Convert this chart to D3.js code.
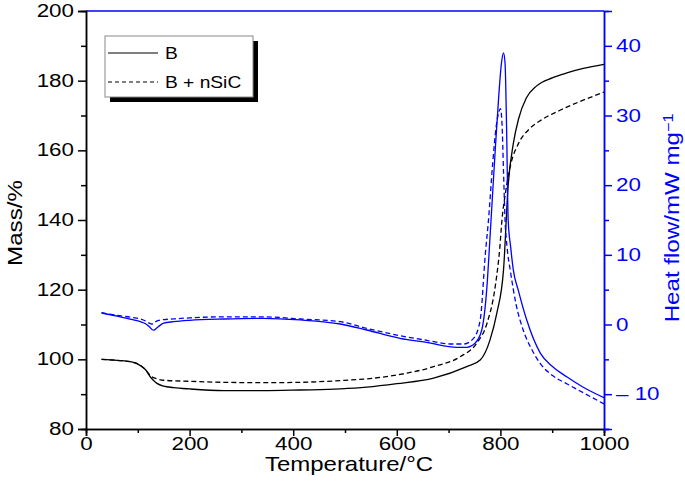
<!DOCTYPE html>
<html><head><meta charset="utf-8">
<script src="https://cdn.jsdelivr.net/npm/d3@7"></script>
<style>body{margin:0;background:#fff}svg{display:block}</style>
</head><body>
<svg id="c" width="685" height="499"></svg>
<script>
// ---- data ----
const tempMassB = [30, 60, 90, 105, 115, 124, 130, 137, 150, 169, 200, 266, 342, 414, 491, 542, 600, 671, 735, 761, 780, 793, 806, 815, 825, 835, 850, 870, 900, 930, 960, 1000];
const massB     = [100, 99.7, 99.2, 98.2, 97, 95, 94, 93.1, 92.3, 91.9, 91.5, 91.0, 91.0, 91.2, 91.5, 92.0, 93.0, 94.6, 97.9, 99.8, 105.6, 113.2, 125.6, 150, 162, 169, 175, 178.5, 180.8, 182.3, 183.5, 184.7];
const tempMassS = [30, 60, 90, 105, 115, 125, 137, 150, 200, 266, 342, 414, 491, 542, 600, 671, 723, 754, 774, 790, 799, 803, 810, 820, 835, 855, 880, 915, 950, 1000];
const massS     = [100, 99.7, 99.2, 98.3, 97, 95.2, 94.4, 94.0, 93.7, 93.4, 93.3, 93.4, 93.9, 94.4, 95.5, 97.9, 100.8, 104.6, 110.3, 120.9, 132.3, 140, 148, 156, 162, 166, 168.8, 171.5, 173.8, 176.7];
const tempHeatB = [30, 60, 90, 105, 115, 122, 128, 131, 135, 140, 150, 169, 200, 266, 342, 414, 491, 542, 606, 660, 716, 735, 751, 764, 774, 780, 790, 797, 802, 806, 809, 812, 815, 820, 825, 835, 851, 877, 900, 928, 960, 1000];
const heatB     = [1.65, 1.2, 0.7, 0.4, 0.1, -0.3, -0.75, -0.8, -0.6, -0.3, 0.2, 0.4, 0.6, 0.79, 0.89, 0.65, 0.07, -0.79, -1.98, -2.6, -3.27, -3.27, -2.7, -0.79, 5.4, 12.6, 25, 33, 37.5, 39, 37.5, 28, 15, 11, 7.8, 4.8, 0.6, -4.1, -6, -7.5, -9, -10.5];
const tempHeatS = [30, 60, 90, 105, 115, 122, 127, 132, 140, 150, 169, 200, 266, 342, 414, 491, 542, 606, 660, 703, 729, 748, 761, 771, 777, 785, 792, 797, 800, 803, 806, 809, 813, 819, 830, 844, 860, 877, 900, 928, 960, 1000];
const heatS     = [1.7, 1.3, 1.0, 0.8, 0.5, 0.2, 0.07, 0.3, 0.6, 0.7, 0.8, 0.95, 1.1, 1.1, 0.79, 0.4, -0.55, -1.6, -2.3, -2.8, -2.8, -2.0, 0.65, 10.2, 15, 23, 28.5, 30.5, 31, 29, 22, 15, 11, 7.8, 3.0, -0.8, -3.5, -5.6, -7.3, -8.5, -9.8, -11.4];
const xTicks = [0, 200, 400, 600, 800, 1000];
const xMinor = [100, 300, 500, 700, 900];
const massTicks = [80, 100, 120, 140, 160, 180, 200];
const massMinor = [90, 110, 130, 150, 170, 190];
const heatTicks = [-10, 0, 10, 20, 30, 40];
const heatMinor = [-15, -5, 5, 15, 25, 35];
const legendLabels = ["B", "B + nSiC"];

// ---- chart ----
const BLUE = "#0000ff";
const FONT = "'Liberation Sans', Arial, Helvetica, sans-serif";
const svg = d3.select("#c");
const L = 86, R = 604, T = 11, B = 429;
const x = d3.scaleLinear().domain([0, 1000]).range([L, R]);
const yL = d3.scaleLinear().domain([80, 200]).range([B, T]);
const yR = d3.scaleLinear().domain([-15, 45]).range([B, T]);

const tickFS = 17.5, tickSX = 1.28;

// top border
svg.append("line").attr("x1", L).attr("x2", R).attr("y1", T).attr("y2", T)
  .attr("stroke", BLUE).attr("stroke-width", 1.5);

function styleAxis(g, color) {
  g.select(".domain").attr("stroke", color).attr("stroke-width", 1.5);
  g.selectAll(".tick line").attr("stroke", color).attr("stroke-width", 1.5);
  g.selectAll(".tick text").attr("fill", color).style("font-family", FONT).style("font-size", tickFS + "px");
}

// left axis
const gl = svg.append("g").attr("transform", `translate(${L},0)`);
gl.call(d3.axisLeft(yL).tickValues(massMinor).tickSize(5).tickFormat(""));
const gl2 = svg.append("g").attr("transform", `translate(${L},0)`)
  .call(d3.axisLeft(yL).tickValues(massTicks).tickSize(8).tickPadding(4).tickFormat(d3.format("d")));
styleAxis(gl, "#000"); styleAxis(gl2, "#000");
gl2.selectAll(".tick text").attr("x", -12 / tickSX).attr("transform", `scale(${tickSX},1)`);

// bottom axis
const gb = svg.append("g").attr("transform", `translate(0,${B})`);
gb.call(d3.axisBottom(x).tickValues(xMinor).tickSize(4).tickFormat(""));
const gb2 = svg.append("g").attr("transform", `translate(0,${B})`)
  .call(d3.axisBottom(x).tickValues(xTicks).tickSize(7).tickPadding(2).tickFormat(d3.format("d")));
styleAxis(gb, "#000"); styleAxis(gb2, "#000");
gb2.selectAll(".tick text").attr("transform", `scale(${tickSX},1)`);

// right axis
const gr = svg.append("g").attr("transform", `translate(${R},0)`);
gr.call(d3.axisRight(yR).tickValues(heatMinor).tickSize(5).tickFormat(""));
const gr2 = svg.append("g").attr("transform", `translate(${R},0)`)
  .call(d3.axisRight(yR).tickValues(heatTicks).tickSize(8).tickPadding(4)
    .tickFormat(d => d < 0 ? "\u2013 " + Math.abs(d) : String(d)));
styleAxis(gr, BLUE); styleAxis(gr2, BLUE);
gr2.selectAll(".tick text").attr("x", 12 / tickSX).attr("transform", `scale(${tickSX},1)`);

// lines
const clip = svg.append("clipPath").attr("id", "pc").append("rect")
  .attr("x", L).attr("y", T).attr("width", R - L).attr("height", B - T);
const plot = svg.append("g").attr("clip-path", "url(#pc)");
function drawLine(ts, vs, yS, color, dash) {
  const pts = ts.map((t, i) => [t, vs[i]]);
  plot.append("path").datum(pts)
    .attr("d", d3.line().x(d => x(d[0])).y(d => yS(d[1])).curve(d3.curveMonotoneX))
    .attr("fill", "none").attr("stroke", color).attr("stroke-width", 1.3)
    .attr("stroke-dasharray", dash ? "5,3" : null);
}
drawLine(tempMassB, massB, yL, "#000", false);
drawLine(tempMassS, massS, yL, "#000", true);
drawLine(tempHeatB, heatB, yR, BLUE, false);
drawLine(tempHeatS, heatS, yR, BLUE, true);

// axis titles
svg.append("text").attr("transform", `translate(${(L + R) / 2 + 4},471) scale(1.2,1)`)
  .attr("text-anchor", "middle").style("font-family", FONT).style("font-size", "20px")
  .text("Temperature/°C");
svg.append("text").attr("transform", `translate(22,223) rotate(-90) scale(1.15,1)`)
  .attr("text-anchor", "middle").style("font-family", FONT).style("font-size", "21px")
  .text("Mass/%");
const rt = svg.append("text").attr("transform", `translate(679,218) rotate(-90) scale(1.15,1)`)
  .attr("text-anchor", "middle").style("font-family", FONT).style("font-size", "21px")
  .attr("fill", BLUE);
rt.append("tspan").text("Heat flow/mW mg");
rt.append("tspan").attr("dy", "-0.45em").style("font-size", "14px").text("\u22121");

// legend
const lx = 105, ly = 36, lw = 148, lh = 61;
svg.append("rect").attr("x", lx + 5).attr("y", ly + 5).attr("width", lw).attr("height", lh).attr("fill", "#000");
svg.append("rect").attr("x", lx).attr("y", ly).attr("width", lw).attr("height", lh)
  .attr("fill", "#fff").attr("stroke", "#888").attr("stroke-width", 1);
legendLabels.forEach((lab, i) => {
  const yy = ly + 17 + i * 29;
  svg.append("line").attr("x1", lx + 3).attr("x2", lx + 53).attr("y1", yy).attr("y2", yy)
    .attr("stroke", "#000").attr("stroke-width", 1.2).attr("stroke-dasharray", i ? "4,3" : null);
  svg.append("text").attr("transform", `translate(${lx + 60},${yy + 6}) scale(1.2,1)`)
    .style("font-family", FONT).style("font-size", "16px").text(lab);
});
</script>
</body></html>
